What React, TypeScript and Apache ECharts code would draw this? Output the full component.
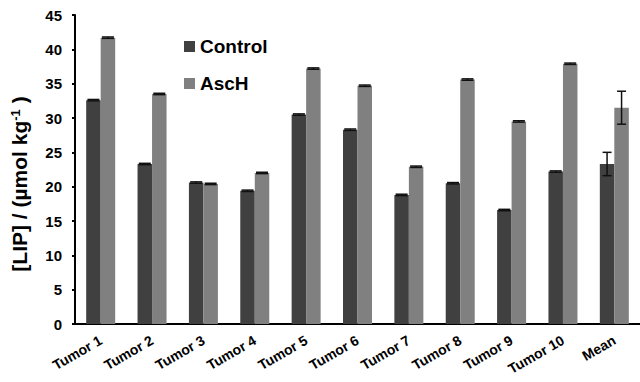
import React, { useEffect, useRef } from "react";
import * as echarts from "echarts";

const categories = ["Tumor 1", "Tumor 2", "Tumor 3", "Tumor 4", "Tumor 5", "Tumor 6", "Tumor 7", "Tumor 8", "Tumor 9", "Tumor 10", "Mean"];
const controlValues = [32.6, 23.3, 20.6, 19.4, 30.5, 28.3, 18.8, 20.5, 16.6, 22.2, 23.3];
const aschValues = [41.7, 33.5, 20.4, 22.0, 37.2, 34.7, 22.9, 35.6, 29.5, 37.9, 31.5];
const controlErr = [0.1, 0.1, 0.1, 0.1, 0.1, 0.1, 0.1, 0.1, 0.1, 0.1, 1.7];
const aschErr = [0.1, 0.1, 0.1, 0.1, 0.1, 0.1, 0.1, 0.1, 0.1, 0.1, 2.4];
const yTicks = { min: 0, max: 45, interval: 5 };

const FONT = "'Liberation Sans', Arial, sans-serif";
const BAR_W = 14.5;

function errorSeries(name: string, values: number[], errs: number[], offset: number) {
  return {
    type: "custom",
    name: name + " err",
    z: 10,
    silent: true,
    data: values.map((v, i) => [i, v, errs[i]]),
    renderItem: (params: any, api: any) => {
      const i = api.value(0);
      const v = api.value(1);
      const e = api.value(2);
      const top = api.coord([i, v + e]);
      const bot = api.coord([i, v - e]);
      const x = top[0] + offset;
      const half = e > 0.5 ? 4.5 : 6;
      const style = { stroke: "#111", lineWidth: 1.5 };
      return {
        type: "group",
        children: [
          { type: "line", shape: { x1: x, y1: top[1], x2: x, y2: bot[1] }, style },
          { type: "line", shape: { x1: x - half, y1: top[1], x2: x + half, y2: top[1] }, style },
          { type: "line", shape: { x1: x - half, y1: bot[1], x2: x + half, y2: bot[1] }, style },
        ],
      };
    },
  };
}

export default function App() {
  const ref = useRef<HTMLDivElement>(null);
  useEffect(() => {
    if (!ref.current) return;
    const chart = echarts.init(ref.current, null, { renderer: "svg" });
    chart.setOption({
      animation: false,
      backgroundColor: "#ffffff",
      grid: { left: 75, right: -1.5, top: 15, bottom: 58, containLabel: false },
      legend: {
        orient: "vertical",
        left: 179,
        top: 32,
        itemWidth: 11,
        itemHeight: 11,
        itemGap: 18,
        icon: "rect",
        textStyle: { fontFamily: FONT, fontWeight: "bold", fontSize: 19, color: "#000" },
        data: ["Control", "AscH"],
      },
      xAxis: {
        type: "category",
        data: categories,
        axisLine: { lineStyle: { color: "#000", width: 2 } },
        axisTick: { inside: true, length: 4, lineStyle: { color: "#000", width: 2 } },
        axisLabel: {
          interval: 0,
          rotate: 30,
          margin: 15,
          fontFamily: FONT,
          fontWeight: "bold",
          fontSize: 14,
          color: "#000",
        },
        splitLine: { show: false },
      },
      yAxis: {
        type: "value",
        min: yTicks.min,
        max: yTicks.max,
        interval: yTicks.interval,
        axisLine: { show: true, lineStyle: { color: "#000", width: 2 } },
        axisTick: { show: true, length: 3, lineStyle: { color: "#000", width: 2 } },
        axisLabel: { margin: 13, fontFamily: FONT, fontWeight: "bold", fontSize: 15, color: "#000" },
        splitLine: { show: false },
      },
      graphic: [
        {
          type: "text",
          x: 19,
          y: 184,
          rotation: Math.PI / 2,
          style: {
            text: "[LIP] / (µmol kg{sup|-1} )",
            fontFamily: FONT,
            fontWeight: "bold",
            fontSize: 21,
            fill: "#000",
            align: "center",
            verticalAlign: "middle",
            rich: {
              sup: { fontFamily: FONT, fontWeight: "bold", fontSize: 13, verticalAlign: "top", lineHeight: 13, padding: [0, 0, 9, 0] },
            },
          },
        },
      ],
      series: [
        {
          name: "Control",
          type: "bar",
          data: controlValues,
          barWidth: BAR_W,
          barGap: "0%",
          itemStyle: { color: "#404040" },
        },
        {
          name: "AscH",
          type: "bar",
          data: aschValues,
          barWidth: BAR_W,
          barGap: "0%",
          itemStyle: { color: "#808080" },
        },
        errorSeries("Control", controlValues, controlErr, -BAR_W / 2),
        errorSeries("AscH", aschValues, aschErr, BAR_W / 2),
      ],
    });
    return () => chart.dispose();
  }, []);
  return <div ref={ref} style={{ position: "fixed", left: 0, top: 0, width: 640, height: 382 }} />;
}
